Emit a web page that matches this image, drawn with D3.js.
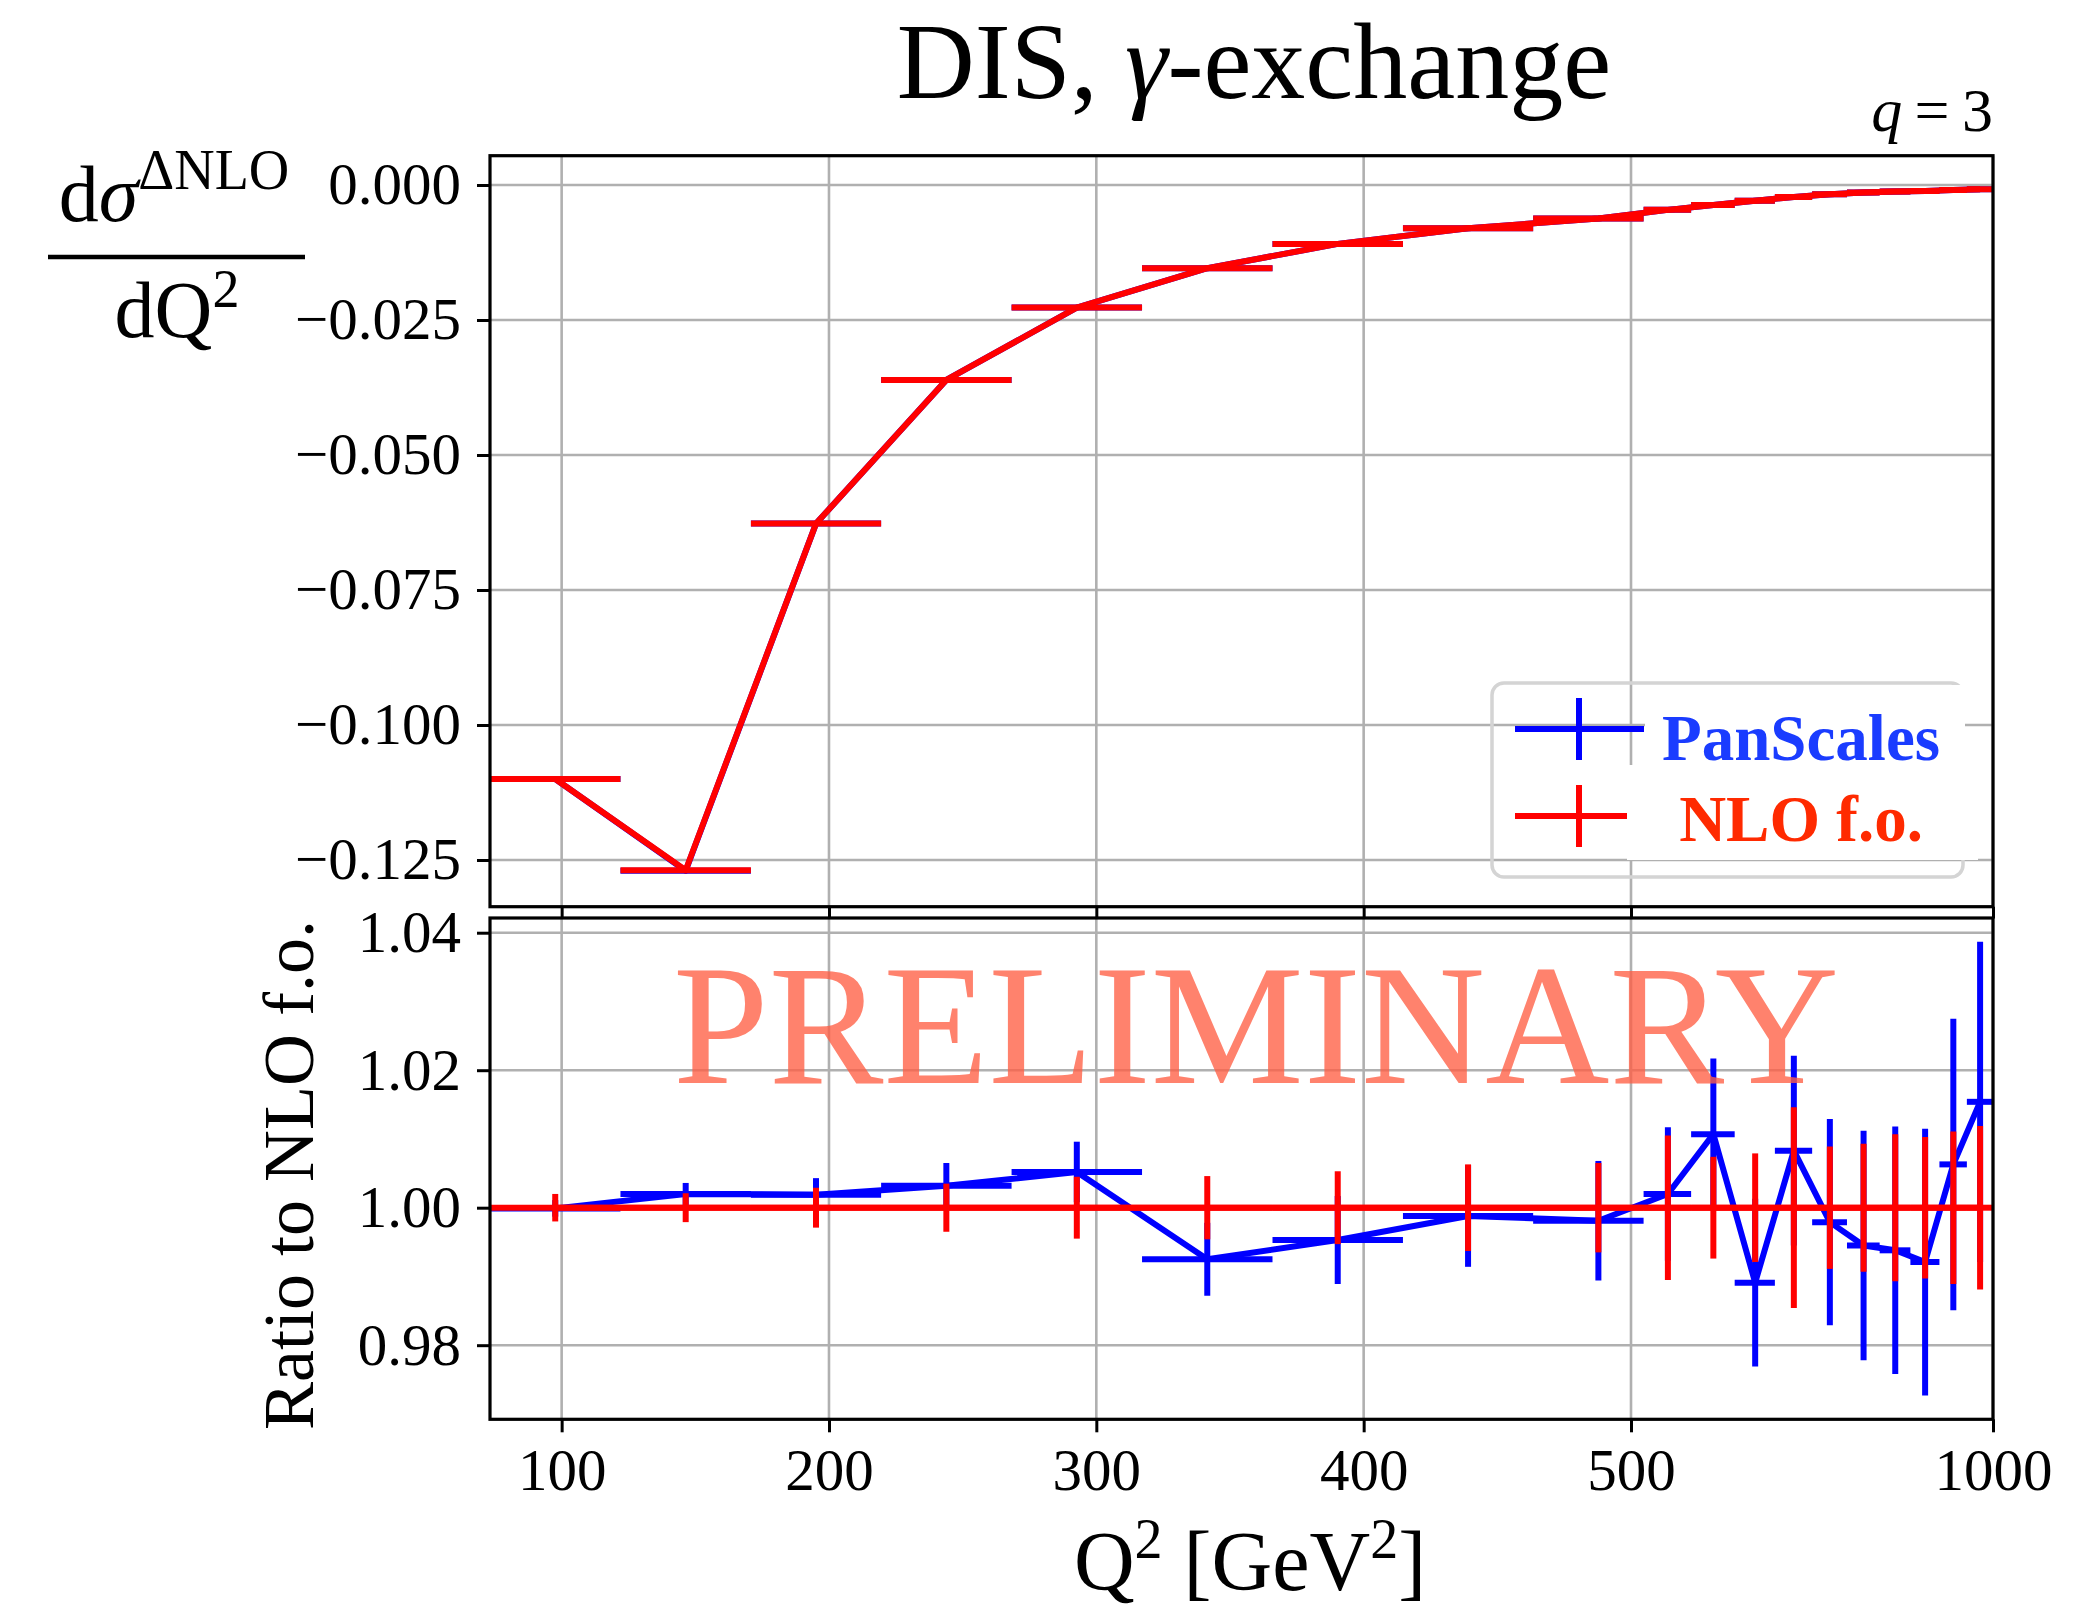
<!DOCTYPE html>
<html>
<head>
<meta charset="utf-8">
<script src="https://cdn.jsdelivr.net/npm/d3@7"></script>
<style>
  body { margin: 0; background: #fff; }
  svg text { font-family: "Liberation Serif", "DejaVu Serif", serif; }
</style>
</head>
<body>
<svg id="chart" width="2100" height="1610"></svg>
<script>
// bin edges in Q^2 [GeV^2], 19 bins
const binEdges = [73.2, 122.0, 170.8, 219.5, 268.3, 317.1, 365.9, 414.7, 463.4, 512.2,
                  561.0, 609.8, 658.6, 707.3, 756.1, 804.9, 853.7, 902.5, 951.2, 1000.0];

// upper panel: d sigma^DeltaNLO / dQ^2
const nloTop = [-0.1100, -0.1269, -0.0627, -0.0361, -0.0227, -0.0154, -0.0109, -0.0080, -0.0062, -0.0046,
                -0.0037, -0.0029, -0.0022, -0.0017, -0.0014, -0.0012, -0.0011, -0.0009, -0.0008];
const panTop = [-0.1100, -0.1270, -0.0627, -0.0361, -0.0227, -0.0154, -0.0109, -0.0080, -0.0062, -0.0046,
                -0.0037, -0.0029, -0.0022, -0.0017, -0.0014, -0.0012, -0.0011, -0.0009, -0.0008];

// lower panel: ratio to NLO f.o.
const panRatio    = [0.9999, 1.0020, 1.0019, 1.0032, 1.0052, 0.9925, 0.9953, 0.9988, 0.9981, 1.0020,
                     1.0107, 0.9891, 1.0083, 0.9979, 0.9945, 0.9938, 0.9921, 1.0063, 1.0154];
const panRatioErr = [0.0012, 0.0016, 0.0024, 0.0033, 0.0044, 0.0053, 0.0064, 0.0074, 0.0087, 0.0097,
                     0.0110, 0.0122, 0.0138, 0.0150, 0.0167, 0.0180, 0.0194, 0.0212, 0.0233];
const nloRatio    = [1, 1, 1, 1, 1, 1, 1, 1, 1, 1, 1, 1, 1, 1, 1, 1, 1, 1, 1];
const nloRatioErr = [0.0020, 0.0021, 0.0029, 0.0035, 0.0045, 0.0046, 0.0053, 0.0063, 0.0065, 0.0105,
                     0.0074, 0.0079, 0.0146, 0.0089, 0.0093, 0.0107, 0.0103, 0.0111, 0.0119];

// ticks
const xTicks = [100, 200, 300, 400, 500, 1000];
const topTicks = [0, -0.025, -0.05, -0.075, -0.1, -0.125];
const botTicks = [0.98, 1.00, 1.02, 1.04];

const BLUE = '#0000ff', RED = '#ff0000';
const LW = 6;
const L = 490, R = 1993;
const top0 = 155.7, top1 = 906.7;
const bot0 = 918, bot1 = 1419.3;

const svg = d3.select('#chart');
svg.append('rect').attr('width', 2100).attr('height', 1610).attr('fill', '#fff');

// x axis: linear up to 500, log from 500 to 1000
const xLin = d3.scaleLinear().domain([73.2, 500]).range([L, 1631]);
const xLog = d3.scaleLog().domain([500, 1000]).range([1631, R]);
function x(v) { return v <= 500 ? xLin(v) : xLog(v); }
x.copy = () => x;
x.range = () => [L, R];
x.domain = () => [73.2, 1000];

const centers = nloTop.map((d, i) => (binEdges[i] + binEdges[i + 1]) / 2);

const yTop = d3.scaleLinear().domain([-0.13365, 0.00543]).range([top1, top0]);
const yBot = d3.scaleLinear().domain([0.96922, 1.04214]).range([bot1, bot0]);

function grid(y, ticks, y0, y1) {
  const g = svg.append('g').attr('stroke', '#b0b0b0').attr('stroke-width', 2.6);
  g.selectAll(null).data(xTicks).join('line')
    .attr('x1', d => x(d)).attr('x2', d => x(d)).attr('y1', y0).attr('y2', y1);
  g.selectAll(null).data(ticks).join('line')
    .attr('x1', L).attr('x2', R).attr('y1', d => y(d)).attr('y2', d => y(d));
}

function clip(id, y0, y1) {
  svg.append('clipPath').attr('id', id).append('rect')
    .attr('x', L).attr('y', y0).attr('width', R - L).attr('height', y1 - y0);
}

function drawSeries(g, y, vals, errs, color) {
  const s = g.append('g').attr('stroke', color).attr('stroke-width', LW).attr('fill', 'none');
  if (errs) {
    s.selectAll(null).data(vals).join('line')
      .attr('x1', (d, i) => x(centers[i])).attr('x2', (d, i) => x(centers[i]))
      .attr('y1', (d, i) => y(d - errs[i])).attr('y2', (d, i) => y(d + errs[i]));
  }
  s.selectAll(null).data(vals).join('line')
    .attr('x1', (d, i) => x(binEdges[i])).attr('x2', (d, i) => x(binEdges[i + 1]))
    .attr('y1', d => y(d)).attr('y2', d => y(d));
  s.append('path').datum(vals)
    .attr('stroke-linejoin', 'round')
    .attr('d', d3.line().x((d, i) => x(centers[i])).y(d => y(d)));
}

function styleAxis(g, size) {
  g.select('.domain').remove();
  g.selectAll('.tick line').attr('stroke', '#000').attr('stroke-width', 3);
  g.selectAll('.tick text').attr('font-size', size).attr('fill', '#000')
    .attr('font-family', '"Liberation Serif", serif');
}

// ---------- upper panel ----------
grid(yTop, topTicks, top0, top1);
clip('clipTop', top0, top1);
const gTop = svg.append('g').attr('clip-path', 'url(#clipTop)');
drawSeries(gTop, yTop, panTop, null, BLUE);
drawSeries(gTop, yTop, nloTop, null, RED);

svg.append('g').attr('transform', `translate(${L},0)`)
  .call(d3.axisLeft(yTop).tickValues(topTicks).tickFormat(d3.format('.3f')).tickSize(13).tickPadding(16))
  .call(g => styleAxis(g, 59));
svg.append('g').attr('transform', `translate(0,${top1})`)
  .call(d3.axisBottom(x).tickValues(xTicks).tickFormat('').tickSize(12))
  .call(g => styleAxis(g, 59));
svg.append('rect').attr('x', L).attr('y', top0).attr('width', R - L).attr('height', top1 - top0)
  .attr('fill', 'none').attr('stroke', '#000').attr('stroke-width', 3.2);

// legend
const lg = svg.append('g');
lg.append('rect').attr('x', 1492).attr('y', 683).attr('width', 471).attr('height', 194)
  .attr('rx', 12).attr('fill', 'none').attr('stroke', '#d4d4d4').attr('stroke-width', 3.5);
lg.append('rect').attr('x', 1645).attr('y', 685).attr('width', 320).attr('height', 80).attr('fill', '#fff');
lg.append('rect').attr('x', 1627).attr('y', 765).attr('width', 351).attr('height', 95).attr('fill', '#fff');
const legendItems = [
  { label: 'PanScales', color: BLUE, text: '#1a3cff', y: 729, x2: 1644, base: 760 },
  { label: 'NLO f.o.', color: RED, text: '#ff2a00', y: 816, x2: 1627, base: 841 }
];
legendItems.forEach(it => {
  lg.append('line').attr('x1', 1515).attr('x2', it.x2).attr('y1', it.y).attr('y2', it.y)
    .attr('stroke', it.color).attr('stroke-width', LW);
  lg.append('line').attr('x1', 1579).attr('x2', 1579).attr('y1', it.y - 31).attr('y2', it.y + 31)
    .attr('stroke', it.color).attr('stroke-width', LW);
  lg.append('text').attr('x', 1801).attr('y', it.base).attr('text-anchor', 'middle')
    .attr('font-size', 65).attr('font-weight', 'bold').attr('fill', it.text).text(it.label);
});

// ---------- lower panel ----------
grid(yBot, botTicks, bot0, bot1);
clip('clipBot', bot0, bot1);
const gBot = svg.append('g').attr('clip-path', 'url(#clipBot)');
drawSeries(gBot, yBot, panRatio, panRatioErr, BLUE);
drawSeries(gBot, yBot, nloRatio, nloRatioErr, RED);

svg.append('g').attr('transform', `translate(${L},0)`)
  .call(d3.axisLeft(yBot).tickValues(botTicks).tickFormat(d3.format('.2f')).tickSize(13).tickPadding(16))
  .call(g => styleAxis(g, 59));
svg.append('g').attr('transform', `translate(0,${bot1})`)
  .call(d3.axisBottom(x).tickValues(xTicks).tickFormat(d3.format('d')).tickSize(13).tickPadding(16))
  .call(g => styleAxis(g, 59));
svg.append('rect').attr('x', L).attr('y', bot0).attr('width', R - L).attr('height', bot1 - bot0)
  .attr('fill', 'none').attr('stroke', '#000').attr('stroke-width', 3.2);

// watermark
svg.append('text').attr('x', 1256).attr('y', 1083).attr('text-anchor', 'middle')
  .attr('font-size', 172).attr('fill', '#ff5f45').attr('opacity', 0.78).text('PRELIMINARY');

// ---------- labels ----------
const title = svg.append('text').attr('x', 1254).attr('y', 98).attr('text-anchor', 'middle')
  .attr('font-size', 108).attr('fill', '#000');
title.append('tspan').text('DIS, ');
title.append('tspan').attr('font-style', 'italic').text('γ');
title.append('tspan').text('-exchange');

const qlab = svg.append('text').attr('x', R).attr('y', 131).attr('text-anchor', 'end')
  .attr('font-size', 62).attr('fill', '#000');
qlab.append('tspan').attr('font-style', 'italic').text('q');
qlab.append('tspan').text('\u2009=\u20093');

const num = svg.append('text').attr('x', 174).attr('y', 221).attr('text-anchor', 'middle')
  .attr('font-size', 80).attr('fill', '#000');
num.append('tspan').text('d');
num.append('tspan').attr('font-style', 'italic').text('σ');
num.append('tspan').attr('font-size', 56).attr('dy', -32).text('ΔNLO');
svg.append('line').attr('x1', 48).attr('x2', 305).attr('y1', 257).attr('y2', 257)
  .attr('stroke', '#000').attr('stroke-width', 4.5);
const den = svg.append('text').attr('x', 177).attr('y', 337).attr('text-anchor', 'middle')
  .attr('font-size', 80).attr('fill', '#000');
den.append('tspan').text('dQ');
den.append('tspan').attr('font-size', 54).attr('dy', -30).text('2');

svg.append('text').attr('transform', 'translate(313,1175) rotate(-90)').attr('text-anchor', 'middle')
  .attr('font-size', 72).attr('fill', '#000').text('Ratio to NLO f.o.');

const xl = svg.append('text').attr('x', 1250).attr('y', 1590).attr('text-anchor', 'middle')
  .attr('font-size', 84).attr('fill', '#000');
xl.append('tspan').text('Q');
xl.append('tspan').attr('font-size', 56).attr('dy', -32).text('2');
xl.append('tspan').attr('dy', 32).text(' [GeV');
xl.append('tspan').attr('font-size', 56).attr('dy', -32).text('2');
xl.append('tspan').attr('dy', 32).text(']');
</script>
</body>
</html>
